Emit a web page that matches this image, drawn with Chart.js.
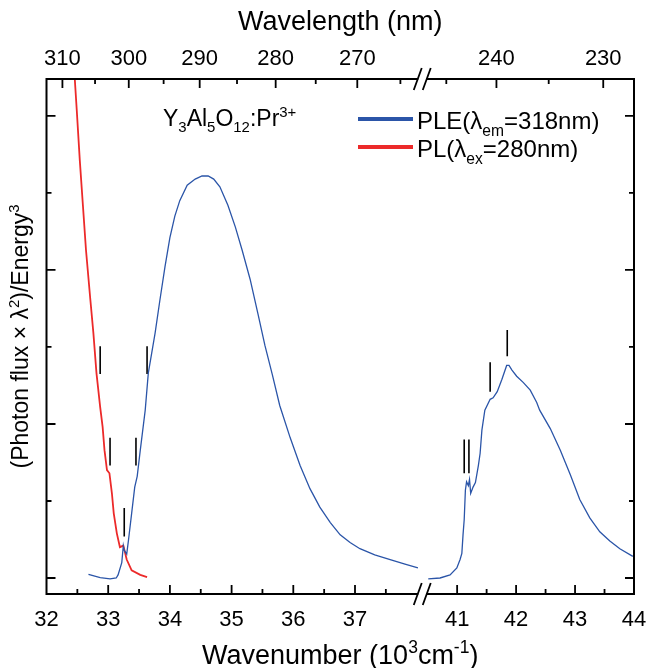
<!DOCTYPE html>
<html>
<head>
<meta charset="utf-8">
<script src="https://cdn.jsdelivr.net/npm/chart.js@4.4.0/dist/chart.umd.min.js"></script>
<style>
  html, body { margin: 0; padding: 0; background: #fff; }
</style>
</head>
<body>
<canvas id="myChart" width="648" height="668"></canvas>
<script>
// PLE (lambda_em = 318 nm), part before the axis break (10^3 cm^-1)
var pleLeftX = [32.68, 32.87, 33.03, 33.13, 33.16, 33.22, 33.245, 33.26, 33.30, 33.33, 33.38, 33.43, 33.47, 33.52, 33.60, 33.65, 33.76, 33.84, 33.92, 34.00, 34.08, 34.16, 34.28, 34.41, 34.52, 34.62, 34.71, 34.81, 34.94, 35.06, 35.17, 35.30, 35.43, 35.54, 35.66, 35.78, 35.95, 36.11, 36.27, 36.43, 36.60, 36.76, 36.92, 37.08, 37.32, 37.57, 37.81, 38.02];
var pleLeftY = [0.024, 0.002, -0.006, 0.0, 0.02, 0.10, 0.21, 0.18, 0.155, 0.25, 0.42, 0.59, 0.66, 0.83, 1.09, 1.33, 1.59, 1.81, 2.02, 2.21, 2.35, 2.45, 2.55, 2.59, 2.61, 2.61, 2.59, 2.54, 2.42, 2.28, 2.13, 1.94, 1.71, 1.51, 1.32, 1.12, 0.91, 0.73, 0.58, 0.46, 0.36, 0.28, 0.23, 0.19, 0.15, 0.12, 0.09, 0.065];
// PLE, part after the break
var pleRightX = [40.51, 40.71, 40.88, 40.995, 41.05, 41.08, 41.10, 41.12, 41.14, 41.16, 41.19, 41.21, 41.23, 41.27, 41.31, 41.36, 41.39, 41.42, 41.47, 41.56, 41.61, 41.68, 41.76, 41.84, 41.88, 41.93, 42.01, 42.12, 42.24, 42.35, 42.40, 42.58, 42.75, 42.92, 43.08, 43.25, 43.42, 43.59, 43.76, 43.98];
var pleRightY = [-0.006, 0.0, 0.02, 0.065, 0.12, 0.16, 0.28, 0.38, 0.57, 0.625, 0.60, 0.64, 0.55, 0.59, 0.62, 0.73, 0.81, 0.96, 1.09, 1.16, 1.17, 1.21, 1.29, 1.38, 1.38, 1.35, 1.31, 1.27, 1.22, 1.14, 1.09, 0.97, 0.83, 0.67, 0.51, 0.39, 0.30, 0.24, 0.19, 0.14];
// PL (lambda_ex = 280 nm)
var plX = [32.44, 32.46, 32.49, 32.54, 32.59, 32.64, 32.71, 32.76, 32.81, 32.87, 32.91, 32.94, 32.98, 33.02, 33.06, 33.09, 33.14, 33.19, 33.245, 33.30, 33.38, 33.52, 33.63];
var plY = [3.40, 3.23, 3.04, 2.71, 2.42, 2.13, 1.81, 1.59, 1.33, 1.11, 0.98, 0.83, 0.70, 0.68, 0.55, 0.42, 0.29, 0.20, 0.21, 0.12, 0.05, 0.02, 0.006];
// short vertical markers
var markX = [32.87, 33.63, 33.03, 33.45, 33.26, 41.12, 41.20, 41.56, 41.85];
var markLo = [1.325, 1.325, 0.73, 0.73, 0.27, 0.68, 0.68, 1.21, 1.44];
var markHi = [1.505, 1.505, 0.91, 0.91, 0.455, 0.90, 0.90, 1.40, 1.61];

// ticks
var botMajorL = [32, 33, 34, 35, 36, 37];
var botMinorL = [32.5, 33.5, 34.5, 35.5, 36.5, 37.5];
var botMajorR = [41, 42, 43, 44];
var botMinorR = [41.5, 42.5, 43.5];
var topMajorL = [310, 300, 290, 280, 270];
var topMinorL = [305, 295, 285, 275, 265];
var topMajorR = [240, 230];
var topMinorR = [245, 235];
var yMajor = [0, 1, 2, 3];
var yMinor = [0.5, 1.5, 2.5];

// axis break: left part ends, right part starts
var leftEnd = 38.05, rightStart = 40.45;

var BLUE = '#2b55a8', RED = '#ec2a2a';
var FONT = '"Liberation Sans", Arial, sans-serif';

function pts(xs, ys) {
    return xs.map(function(x, i) { return { x: x, y: ys[i] }; });
}

function richWidth(ctx, parts, size) {
    var w = 0;
    parts.forEach(function(p) {
        ctx.font = (p[1] ? size * 0.65 : size) + 'px ' + FONT;
        w += ctx.measureText(p[0]).width;
    });
    return w;
}

// parts: [text, mode]  mode 0 normal, 1 subscript, 2 superscript
function drawRich(ctx, parts, x, y, size, align) {
    var w = richWidth(ctx, parts, size);
    var cx = align === 'center' ? x - w / 2 : x;
    ctx.textAlign = 'left';
    ctx.textBaseline = 'alphabetic';
    parts.forEach(function(p) {
        var s = p[1] ? size * 0.65 : size;
        var dy = p[1] === 1 ? size * 0.28 : (p[1] === 2 ? -size * 0.4 : 0);
        ctx.font = s + 'px ' + FONT;
        ctx.fillText(p[0], cx, y + dy);
        cx += ctx.measureText(p[0]).width;
    });
}

var datasets = [
    { data: pts(pleLeftX, pleLeftY), xAxisID: 'xL', borderColor: BLUE, borderWidth: 1.3 },
    { data: pts(pleRightX, pleRightY), xAxisID: 'xR', borderColor: BLUE, borderWidth: 1.3 },
    { data: pts(plX, plY), xAxisID: 'xL', borderColor: RED, borderWidth: 1.8 }
];
markX.forEach(function(x, i) {
    datasets.push({
        data: [{ x: x, y: markLo[i] }, { x: x, y: markHi[i] }],
        xAxisID: x > 39 ? 'xR' : 'xL',
        borderColor: '#000',
        borderWidth: 1.6
    });
});

var frame = {
    id: 'frame',
    afterDraw: function(chart) {
        var ctx = chart.ctx, a = chart.chartArea;
        var sL = chart.scales.xL, sR = chart.scales.xR, sy = chart.scales.y;
        var brk = (sL.getPixelForValue(leftEnd) + sR.getPixelForValue(rightStart)) / 2;
        ctx.save();
        ctx.strokeStyle = '#000';
        ctx.fillStyle = '#000';
        ctx.lineWidth = 2;

        // box with gaps at the break
        ctx.beginPath();
        ctx.moveTo(brk - 4, a.top); ctx.lineTo(a.left, a.top); ctx.lineTo(a.left, a.bottom); ctx.lineTo(brk - 4, a.bottom);
        ctx.moveTo(brk + 4, a.top); ctx.lineTo(a.right, a.top); ctx.lineTo(a.right, a.bottom); ctx.lineTo(brk + 4, a.bottom);
        ctx.stroke();

        // break marks
        ctx.lineWidth = 1.8;
        ctx.beginPath();
        [a.top, a.bottom].forEach(function(yy) {
            [brk - 4.5, brk + 4.5].forEach(function(c) {
                ctx.moveTo(c - 4, yy + 11);
                ctx.lineTo(c + 4, yy - 11);
            });
        });
        ctx.stroke();

        // inward ticks
        ctx.lineWidth = 1.8;
        ctx.beginPath();
        function xt(scale, v, len) {
            var px = scale.getPixelForValue(v);
            ctx.moveTo(px, a.bottom); ctx.lineTo(px, a.bottom - len);
        }
        function tt(scale, lam, len) {
            var px = scale.getPixelForValue(10000 / lam);
            ctx.moveTo(px, a.top); ctx.lineTo(px, a.top + len);
        }
        botMajorL.forEach(function(v) { if (v > 32) xt(sL, v, 9); });
        botMinorL.forEach(function(v) { xt(sL, v, 5); });
        botMajorR.forEach(function(v) { if (v < 44) xt(sR, v, 9); });
        botMinorR.forEach(function(v) { xt(sR, v, 5); });
        topMajorL.forEach(function(v) { tt(sL, v, 9); });
        topMinorL.forEach(function(v) { tt(sL, v, 5); });
        topMajorR.forEach(function(v) { tt(sR, v, 9); });
        topMinorR.forEach(function(v) { tt(sR, v, 5); });
        yMajor.forEach(function(v) {
            var py = sy.getPixelForValue(v);
            ctx.moveTo(a.left, py); ctx.lineTo(a.left + 9, py);
            ctx.moveTo(a.right, py); ctx.lineTo(a.right - 9, py);
        });
        yMinor.forEach(function(v) {
            var py = sy.getPixelForValue(v);
            ctx.moveTo(a.left, py); ctx.lineTo(a.left + 5, py);
            ctx.moveTo(a.right, py); ctx.lineTo(a.right - 5, py);
        });
        ctx.stroke();

        // tick labels
        ctx.font = '22px ' + FONT;
        ctx.textAlign = 'center';
        ctx.textBaseline = 'alphabetic';
        botMajorL.forEach(function(v) { ctx.fillText(String(v), sL.getPixelForValue(v), 626); });
        botMajorR.forEach(function(v) { ctx.fillText(String(v), sR.getPixelForValue(v), 626); });
        topMajorL.forEach(function(v) { ctx.fillText(String(v), sL.getPixelForValue(10000 / v), 65); });
        topMajorR.forEach(function(v) { ctx.fillText(String(v), sR.getPixelForValue(10000 / v), 65); });

        var mid = (a.left + a.right) / 2;
        // axis titles
        drawRich(ctx, [['Wavelength (nm)', 0]], mid, 30, 27, 'center');
        drawRich(ctx, [['Wavenumber (10', 0], ['3', 2], ['cm', 0], ['-1', 2], [')', 0]], mid, 664, 27, 'center');
        ctx.save();
        ctx.translate(28, (a.top + a.bottom) / 2);
        ctx.rotate(-Math.PI / 2);
        drawRich(ctx, [['(Photon flux \u00d7 \u03bb', 0], ['2', 2], [')/Energy', 0], ['3', 2]], 0, 0, 23, 'center');
        ctx.restore();

        // sample label
        drawRich(ctx, [['Y', 0], ['3', 1], ['Al', 0], ['5', 1], ['O', 0], ['12', 1], [':Pr', 0], ['3+', 2]], 163, 126, 23, 'left');

        // legend
        ctx.lineWidth = 4;
        ctx.strokeStyle = BLUE;
        ctx.beginPath(); ctx.moveTo(358, 119); ctx.lineTo(413, 119); ctx.stroke();
        ctx.strokeStyle = RED;
        ctx.beginPath(); ctx.moveTo(358, 147); ctx.lineTo(413, 147); ctx.stroke();
        drawRich(ctx, [['PLE(\u03bb', 0], ['em', 1], ['=318nm)', 0]], 417, 129, 24, 'left');
        drawRich(ctx, [['PL(\u03bb', 0], ['ex', 1], ['=280nm)', 0]], 417, 157, 24, 'left');
        ctx.restore();
    }
};

var ctx = document.getElementById('myChart').getContext('2d');
var myChart = new Chart(ctx, {
    type: 'line',
    data: { datasets: datasets },
    options: {
        responsive: false,
        animation: false,
        events: [],
        layout: { padding: { left: 46.5, right: 14, top: 79, bottom: 74 } },
        elements: { point: { radius: 0 }, line: { tension: 0 } },
        plugins: { legend: { display: false }, tooltip: { enabled: false } },
        scales: {
            // left part: 61.7 px per unit, right part: 58.9 px per unit, both spanning the full width
            xL: { type: 'linear', display: false, min: 32, max: 32 + 587.5 / 61.7 },
            xR: { type: 'linear', display: false, min: 40.41 - 375.5 / 58.9, max: 44 },
            y: { type: 'linear', display: false, min: -0.104, max: 3.24 }
        }
    },
    plugins: [frame]
});
</script>
</body>
</html>
